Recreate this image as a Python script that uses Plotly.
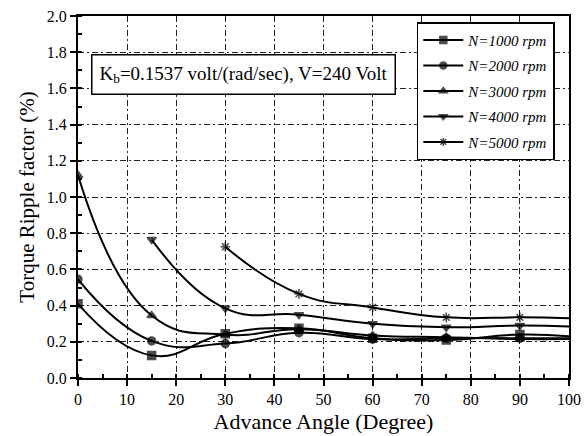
import plotly.graph_objects as go

angles = [0, 15, 30, 45, 60, 75, 90, 100]
n1000 = [0.41, 0.125, 0.245, 0.275, 0.22, 0.21, 0.24, 0.23]
n2000 = [0.545, 0.205, 0.19, 0.25, 0.215, 0.22, 0.22, 0.22]
n3000 = [1.12, 0.345, 0.24, 0.27, 0.235, 0.225, 0.215, 0.215]
angles_4000 = [15, 30, 45, 60, 75, 90, 100]
n4000 = [0.765, 0.385, 0.35, 0.30, 0.28, 0.29, 0.285]
angles_5000 = [30, 45, 60, 75, 90, 100]
n5000 = [0.725, 0.465, 0.39, 0.335, 0.335, 0.33]

series = [
    ("<i>N=1000 rpm</i>", angles, n1000, "square"),
    ("<i>N=2000 rpm</i>", angles, n2000, "circle"),
    ("<i>N=3000 rpm</i>", angles, n3000, "triangle-up"),
    ("<i>N=4000 rpm</i>", angles_4000, n4000, "triangle-down"),
    ("<i>N=5000 rpm</i>", angles_5000, n5000, "asterisk-open"),
]

serif = "Liberation Serif"
fig = go.Figure()
for i, (name, xs, ys, sym) in enumerate(series):
    sizes = [8] * (len(xs) - 1) + [0]
    fig.add_trace(go.Scatter(
        x=xs, y=ys, name=name, mode="lines+markers", legendgroup=f"g{i}",
        line=dict(color="black", width=2, shape="spline", smoothing=1.3),
        marker=dict(symbol=sym, size=sizes, color="black",
                    line=dict(color="black", width=1.5)),
    ))

axis_common = dict(
    showline=True, linecolor="black", linewidth=2, mirror=True,
    showgrid=True, gridcolor="#222222", gridwidth=1, griddash="6px,3px,2px,3px",
    zeroline=False, ticks="outside", ticklen=6, tickcolor="black", tickwidth=1.5,
    tickfont=dict(family=serif, size=16, color="black"),
    automargin=False, layer="below traces",
)
fig.update_xaxes(range=[0, 100], dtick=10,
                 title=dict(text="Advance Angle (Degree)",
                            font=dict(family=serif, size=22, color="black"), standoff=6),
                 minor=dict(dtick=5, ticks="inside", ticklen=4, tickcolor="black"),
                 **axis_common)
fig.update_yaxes(range=[0, 2.0], dtick=0.2, tickformat=".1f",
                 title=dict(text="Torque Ripple factor (%)",
                            font=dict(family=serif, size=21, color="black"), standoff=6),
                 minor=dict(dtick=0.1, ticks="inside", ticklen=4, tickcolor="black"),
                 **axis_common)

fig.add_annotation(
    xref="paper", yref="paper", x=0.026, y=0.895, xanchor="left", yanchor="top",
    text="K<sub>b</sub>=0.1537 volt/(rad/sec), V=240 Volt", showarrow=False,
    font=dict(family=serif, size=19, color="black"),
    bordercolor="black", borderwidth=1.5, borderpad=7, bgcolor="white",
)

fig.update_layout(
    width=585, height=436,
    margin=dict(l=78, r=16, t=16, b=58),
    paper_bgcolor="white", plot_bgcolor="white",
    legend=dict(x=0.69, y=0.983, xanchor="left", yanchor="top",
                bgcolor="white", bordercolor="black", borderwidth=1.5,
                font=dict(family=serif, size=15, color="black"),
                itemwidth=40, tracegroupgap=3),
)

fig.write_html("out.html", config={"displayModeBar": False},
               post_script="document.body.style.margin='0';document.body.style.overflow='hidden';")
